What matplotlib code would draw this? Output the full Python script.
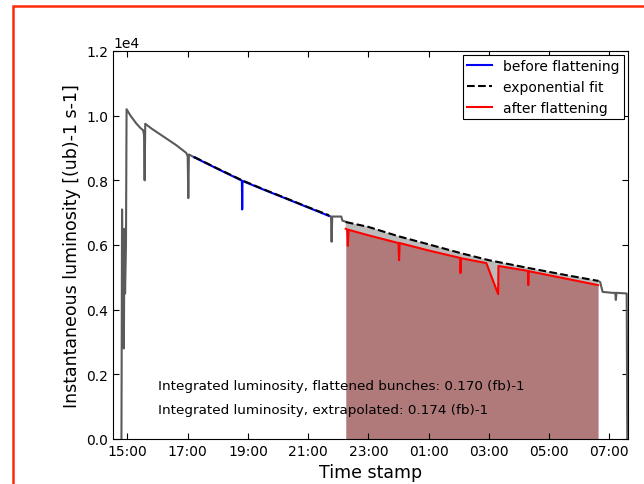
import numpy as np
import matplotlib
matplotlib.use('Agg')
import matplotlib.pyplot as plt
from matplotlib.patches import Rectangle
from matplotlib.ticker import FuncFormatter

# time in hours since midnight of the first day, luminosity in (ub)-1 s-1
full_t = [14.80, 14.82, 14.84, 14.88, 14.90, 14.92, 14.95, 14.97, 15.10, 15.30,
          15.45, 15.52, 15.55, 15.57, 15.59, 15.80, 16.20, 16.60, 16.95, 17.00,
          17.02, 17.04, 17.22, np.nan,
          21.69, 21.76, 21.78, 21.80, 22.10, 22.14, 22.25, np.nan,
          30.63, 30.70, 30.78, 31.10, 31.20, 31.22, 31.24, 31.58, 31.60]
full_v = [0, 7100, 5000, 2800, 6500, 4500, 6000, 10200, 10000, 9750,
          9600, 9550, 9400, 8000, 9750, 9600, 9350, 9100, 8850, 8750,
          7450, 8800, 8710, np.nan,
          6900, 6880, 6100, 6880, 6880, 6750, 6720, np.nan,
          4890, 4850, 4550, 4520, 4520, 4300, 4520, 4500, 0]

before_t = [17.22, 18.00, 18.80, 18.81, 18.82, 19.50, 20.20, 21.00, 21.69]
before_v = [8710, 8350, 7990, 7100, 7980, 7720, 7460, 7160, 6900]

fit_t = [17.22, 18.00, 18.81, 19.50, 20.20, 21.00, 21.69, np.nan,
         22.25, 23.00, 24.00, 25.00, 26.06, 27.00, 28.31, 29.50, 30.63]
fit_v = [8720, 8360, 8000, 7730, 7470, 7170, 6920, np.nan,
         6710, 6560, 6270, 6020, 5750, 5530, 5290, 5080, 4890]

after_t = [22.25, 22.30, 22.32, 22.34, 23.00, 24.00, 24.02, 24.04, 25.00, 26.05,
           26.06, 26.08, 26.92, 27.31, 27.32, 28.30, 28.31, 28.33, 29.50, 30.63]
after_v = [6500, 6480, 5970, 6470, 6300, 6060, 5530, 6060, 5830, 5600,
           5130, 5590, 5440, 4480, 5350, 5200, 4760, 5190, 4970, 4760]

hour_ticks = [15, 17, 19, 21, 23, 25, 27, 29, 31]
text_flat = 'Integrated luminosity, flattened bunches: 0.170 (fb)-1'
text_extr = 'Integrated luminosity, extrapolated: 0.174 (fb)-1'

plt.rcParams['font.family'] = 'DejaVu Sans'
fig = plt.figure(figsize=(6.44, 4.85), dpi=100)
ax = fig.add_axes([0.1755, 0.0928, 0.7995, 0.8])

# shaded areas
ax.fill_between(after_t, 0, after_v, color='#b07a7a', lw=0, zorder=1)
fit_seg_t = np.array(fit_t[8:])
fit_seg_v = np.array(fit_v[8:])
ax.fill(np.concatenate([after_t, fit_seg_t[::-1]]),
        np.concatenate([after_v, fit_seg_v[::-1]]),
        color='#bcbcbc', lw=0, zorder=1)

ax.plot(full_t, full_v, color='#5a5a5a', lw=1.5, zorder=2)
ax.plot(before_t, before_v, color='blue', lw=1.5, label='before flattening', zorder=3)
ax.plot(fit_t, fit_v, color='black', ls='--', lw=1.5, label='exponential fit', zorder=4)
ax.plot(after_t, after_v, color='red', lw=1.5, label='after flattening', zorder=3)

ax.set_xlim(14.52, 31.62)
ax.set_ylim(0, 12000)
ax.set_xticks(hour_ticks)
ax.xaxis.set_major_formatter(FuncFormatter(lambda h, p: '%02d:00' % (int(round(h)) % 24)))
ax.ticklabel_format(style='sci', axis='y', scilimits=(0, 0))
ax.tick_params(direction='in', top=True, right=True, labelsize=10, length=4)
ax.yaxis.get_offset_text().set_fontsize(10)

ax.set_xlabel('Time stamp', fontsize=12.5)
ax.set_ylabel('Instantaneous luminosity [(ub)-1 s-1]', fontsize=12.5)

ax.text(16.0, 1560, text_flat, fontsize=9.7)
ax.text(16.0, 800, text_extr, fontsize=9.7)

leg = ax.legend(loc='upper right', fontsize=10, fancybox=False, framealpha=1,
                edgecolor='black', handlelength=1.8, borderaxespad=0.3,
                labelspacing=0.5, borderpad=0.3)
leg.get_frame().set_linewidth(0.8)

# red frame around the figure
fig.patches.append(Rectangle((13 / 644, -0.2), 1.5, 1.2 - 7 / 485,
                             transform=fig.transFigure, fill=False,
                             edgecolor='#ff2a0a', lw=1.8))

fig.savefig('out.png', dpi=100)
